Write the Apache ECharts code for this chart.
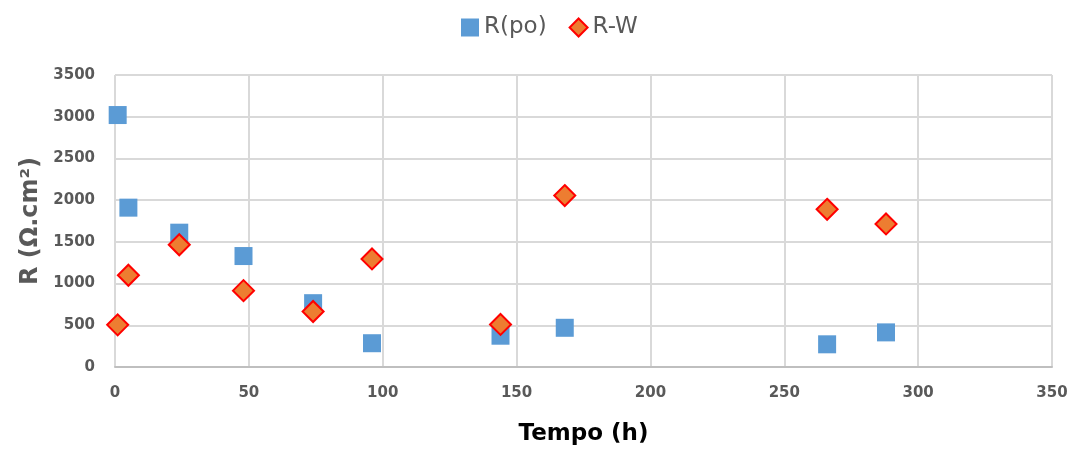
<!DOCTYPE html>
<html>
<head>
<meta charset="utf-8">
<script src="https://cdn.jsdelivr.net/npm/echarts@6/dist/echarts.min.js"></script>
<style>
  html, body { margin: 0; padding: 0; background: #fff; }
  #chart { width: 1072px; height: 449px; }
</style>
</head>
<body>
<div id="chart"></div>
<script>
// Immersion time (h)
const tempo = [1, 5, 24, 48, 74, 96, 144, 168, 266, 288];
// Pore resistance R(po), Ω.cm²
const rPo = [3020, 1910, 1610, 1330, 765, 285, 375, 470, 272, 415];
// Warburg-related resistance R-W, Ω.cm²
const rW = [505, 1100, 1465, 915, 665, 1295, 510, 2055, 1890, 1715];

const xTicks = { min: 0, max: 350, interval: 50 };
const yTicks = { min: 0, max: 3500, interval: 500 };

const pairs = (xs, ys) => xs.map((x, i) => [x, ys[i]]);

const font = 'DejaVu Sans';
const chart = echarts.init(document.getElementById('chart'), null, { renderer: 'canvas' });

chart.setOption({
  animation: false,
  backgroundColor: '#ffffff',
  grid: { left: 115, right: 20, top: 75, bottom: 82, containLabel: false, outerBoundsMode: 'none' },
  legend: {
    top: 11,
    left: 456,
    itemWidth: 18,
    itemHeight: 18,
    itemGap: 22,
    textStyle: { fontFamily: font, fontSize: 23, color: '#595959' },
    data: [
      { name: 'R(po)', icon: 'rect' },
      { name: 'R-W', icon: 'diamond' }
    ]
  },
  xAxis: {
    type: 'value',
    min: xTicks.min, max: xTicks.max, interval: xTicks.interval,
    name: 'Tempo (h)',
    nameLocation: 'middle',
    nameGap: 56,
    nameTextStyle: { fontFamily: font, fontSize: 23, fontWeight: 'bold', color: '#000000' },
    axisLine: { show: true, lineStyle: { color: '#bfbfbf', width: 2 } },
    axisTick: { show: false },
    axisLabel: { fontFamily: font, fontSize: 15, fontWeight: 'bold', color: '#595959', margin: 19,
                 formatter: v => String(v) },
    splitLine: { show: true, lineStyle: { color: '#d9d9d9', width: 2 } }
  },
  yAxis: {
    type: 'value',
    min: yTicks.min, max: yTicks.max, interval: yTicks.interval,
    name: 'R (Ω.cm²)',
    nameLocation: 'middle',
    nameGap: 72,
    nameRotate: 90,
    nameTextStyle: { fontFamily: font, fontSize: 24, fontWeight: 'bold', color: '#595959' },
    axisLine: { show: false },
    axisTick: { show: false },
    axisLabel: { fontFamily: font, fontSize: 15, fontWeight: 'bold', color: '#595959', margin: 20,
                 formatter: v => String(v) },
    splitLine: { show: true, lineStyle: { color: '#d9d9d9', width: 2 } }
  },
  series: [
    {
      name: 'R(po)',
      type: 'scatter',
      symbol: 'rect',
      symbolSize: 18,
      itemStyle: { color: '#5b9bd5', opacity: 1 },
      data: pairs(tempo, rPo)
    },
    {
      name: 'R-W',
      type: 'scatter',
      symbol: 'diamond',
      symbolSize: 21,
      itemStyle: { color: '#ed7d31', borderColor: '#ff0000', borderWidth: 2, opacity: 1 },
      data: pairs(tempo, rW)
    }
  ]
});
</script>
</body>
</html>
